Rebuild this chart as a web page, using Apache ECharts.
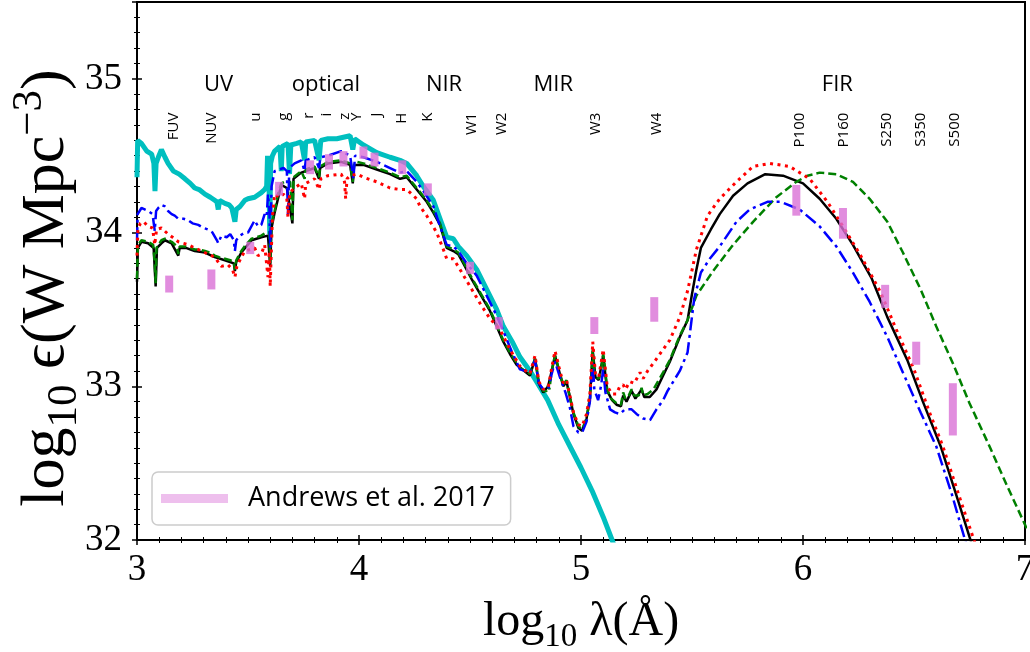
<!DOCTYPE html>
<html>
<head>
<meta charset="utf-8">
<script src="https://cdn.jsdelivr.net/npm/echarts/dist/echarts.min.js"></script>
<style>
  html, body { margin: 0; padding: 0; background: #fff; }
  #chart { width: 1030px; height: 652px; }
</style>
</head>
<body>
<div id="chart"></div>
<script>
// Cosmic spectral energy density, log10 eps (W Mpc^-3) against log10 lambda (Angstrom)

// Unattenuated stellar emission
const stellarSpectrum = [
  [3.000, 34.36], [3.003, 34.60], [3.020, 34.58], [3.044, 34.53], [3.066, 34.51], [3.076, 34.45],
  [3.081, 34.27], [3.086, 34.45], [3.096, 34.49], [3.110, 34.54], [3.126, 34.49], [3.140, 34.45],
  [3.164, 34.40], [3.190, 34.38], [3.216, 34.35], [3.240, 34.32], [3.260, 34.29], [3.280, 34.28],
  [3.306, 34.25], [3.330, 34.23], [3.350, 34.21], [3.360, 34.20], [3.366, 34.15], [3.372, 34.21],
  [3.396, 34.19], [3.415, 34.18], [3.427, 34.16], [3.436, 34.15], [3.441, 34.07], [3.447, 34.15],
  [3.464, 34.17], [3.486, 34.21], [3.500, 34.22], [3.530, 34.23], [3.560, 34.26], [3.575, 34.28],
  [3.584, 34.30], [3.588, 34.50], [3.594, 34.40], [3.598, 33.99], [3.602, 34.45], [3.610, 34.50],
  [3.620, 34.53], [3.644, 34.56], [3.650, 34.40], [3.654, 34.56], [3.680, 34.58], [3.687, 34.38],
  [3.693, 34.57], [3.720, 34.58], [3.740, 34.59], [3.755, 34.47], [3.760, 34.59], [3.800, 34.60],
  [3.820, 34.47], [3.828, 34.60], [3.860, 34.61], [3.900, 34.61], [3.930, 34.62], [3.960, 34.63],
  [3.972, 34.54], [3.980, 34.61], [4.020, 34.57], [4.080, 34.52], [4.140, 34.49], [4.185, 34.47],
  [4.215, 34.45], [4.260, 34.37], [4.290, 34.30], [4.335, 34.21], [4.365, 34.09], [4.395, 33.97],
  [4.425, 33.96], [4.447, 33.91], [4.485, 33.85], [4.530, 33.76], [4.575, 33.63], [4.620, 33.50],
  [4.650, 33.39], [4.690, 33.29], [4.725, 33.19], [4.770, 33.10], [4.800, 33.03], [4.850, 32.91],
  [4.900, 32.75], [4.950, 32.61], [5.000, 32.47], [5.050, 32.32], [5.100, 32.15], [5.140, 32.00],
  [5.180, 31.85]
];

// Model with solid line
const modelBlack = [
  [3.000, 33.68], [3.004, 33.90], [3.020, 33.94], [3.050, 33.93], [3.075, 33.90], [3.084, 33.65],
  [3.090, 33.90], [3.110, 33.93], [3.126, 33.95], [3.156, 33.93], [3.186, 33.85], [3.192, 33.90],
  [3.220, 33.90], [3.260, 33.88], [3.306, 33.87], [3.350, 33.84], [3.396, 33.82], [3.436, 33.80],
  [3.441, 33.75], [3.447, 33.81], [3.470, 33.87], [3.516, 33.95], [3.560, 33.97], [3.590, 33.98],
  [3.600, 33.78], [3.606, 34.03], [3.620, 34.13], [3.650, 34.31], [3.675, 34.29], [3.700, 34.06],
  [3.705, 34.35], [3.740, 34.39], [3.800, 34.42], [3.820, 34.35], [3.825, 34.42], [3.860, 34.45],
  [3.920, 34.46], [3.960, 34.44], [3.972, 34.32], [3.978, 34.44], [4.020, 34.44], [4.080, 34.41],
  [4.140, 34.38], [4.185, 34.35], [4.215, 34.36], [4.260, 34.28], [4.305, 34.20], [4.335, 34.13],
  [4.365, 34.05], [4.395, 33.90], [4.425, 33.88], [4.447, 33.86], [4.470, 33.80], [4.510, 33.69],
  [4.550, 33.59], [4.590, 33.49], [4.620, 33.39], [4.650, 33.29], [4.680, 33.21], [4.710, 33.14],
  [4.770, 33.07], [4.793, 33.18], [4.810, 33.02], [4.830, 32.96], [4.852, 33.00], [4.868, 33.10],
  [4.883, 33.20], [4.905, 33.08], [4.920, 33.00], [4.935, 33.03], [4.950, 32.93], [4.966, 32.82],
  [4.988, 32.73], [5.005, 32.71], [5.025, 32.79], [5.040, 32.92], [5.053, 33.23], [5.065, 33.06],
  [5.080, 33.04], [5.100, 33.20], [5.118, 32.97], [5.140, 32.91], [5.160, 32.88], [5.180, 32.87],
  [5.190, 32.94], [5.205, 32.90], [5.228, 32.97], [5.245, 32.92], [5.273, 32.98], [5.285, 32.93],
  [5.310, 32.93], [5.340, 32.98], [5.370, 33.07], [5.400, 33.16], [5.445, 33.32], [5.480, 33.43],
  [5.500, 33.60], [5.520, 33.76], [5.540, 33.90], [5.585, 34.02], [5.625, 34.12], [5.685, 34.24],
  [5.750, 34.32], [5.830, 34.38], [5.910, 34.37], [6.000, 34.32], [6.075, 34.22], [6.150, 34.09],
  [6.225, 33.92], [6.310, 33.70], [6.380, 33.45], [6.470, 33.17], [6.540, 32.90], [6.620, 32.61],
  [6.700, 32.25], [6.750, 32.02], [6.800, 31.80]
];

// Model with dashed line
const modelGreen = [
  [3.000, 33.70], [3.004, 33.92], [3.020, 33.95], [3.050, 33.94], [3.073, 33.92], [3.080, 33.80],
  [3.084, 33.67], [3.088, 33.90], [3.096, 33.92], [3.110, 33.95], [3.126, 33.96], [3.156, 33.94],
  [3.180, 33.91], [3.186, 33.86], [3.192, 33.91], [3.216, 33.91], [3.240, 33.90], [3.260, 33.89],
  [3.280, 33.89], [3.306, 33.88], [3.330, 33.87], [3.350, 33.85], [3.370, 33.84], [3.396, 33.83],
  [3.420, 33.82], [3.436, 33.81], [3.441, 33.76], [3.447, 33.82], [3.470, 33.88], [3.490, 33.92],
  [3.516, 33.96], [3.540, 33.97], [3.560, 33.98], [3.580, 34.00], [3.596, 34.00], [3.600, 33.80],
  [3.605, 34.05], [3.620, 34.14], [3.635, 34.25], [3.650, 34.32], [3.665, 34.33], [3.690, 34.33],
  [3.700, 34.08], [3.705, 34.36], [3.740, 34.40], [3.755, 34.35], [3.760, 34.41], [3.800, 34.43],
  [3.820, 34.36], [3.825, 34.43], [3.860, 34.46], [3.920, 34.47], [3.960, 34.45], [3.972, 34.33],
  [3.978, 34.45], [3.990, 34.46], [4.020, 34.45], [4.080, 34.42], [4.140, 34.39], [4.185, 34.36],
  [4.215, 34.37], [4.260, 34.29], [4.305, 34.21], [4.335, 34.14], [4.365, 34.06], [4.395, 33.91],
  [4.425, 33.89], [4.447, 33.87], [4.470, 33.81], [4.510, 33.70], [4.550, 33.60], [4.590, 33.50],
  [4.620, 33.40], [4.650, 33.30], [4.680, 33.22], [4.710, 33.15], [4.725, 33.12], [4.770, 33.08],
  [4.793, 33.18], [4.800, 33.12], [4.810, 33.02], [4.830, 32.97], [4.845, 32.97], [4.852, 33.01],
  [4.858, 32.98], [4.868, 33.10], [4.883, 33.20], [4.895, 33.14], [4.905, 33.08], [4.920, 33.01],
  [4.935, 33.04], [4.945, 32.96], [4.966, 32.83], [4.988, 32.74], [5.005, 32.72], [5.025, 32.79],
  [5.040, 32.92], [5.048, 33.10], [5.053, 33.24], [5.058, 33.12], [5.065, 33.06], [5.080, 33.05],
  [5.090, 33.10], [5.100, 33.21], [5.108, 33.12], [5.118, 32.98], [5.135, 32.92], [5.160, 32.89],
  [5.180, 32.88], [5.190, 32.96], [5.200, 32.92], [5.215, 32.94], [5.228, 32.98], [5.240, 32.94],
  [5.260, 32.94], [5.273, 32.99], [5.280, 32.94], [5.300, 32.95], [5.326, 32.98], [5.370, 33.09],
  [5.400, 33.17], [5.445, 33.33], [5.480, 33.43], [5.520, 33.59], [5.595, 33.75], [5.685, 33.92],
  [5.775, 34.07], [5.880, 34.23], [5.970, 34.33], [6.020, 34.37], [6.075, 34.39], [6.150, 34.38],
  [6.225, 34.33], [6.300, 34.22], [6.380, 34.07], [6.450, 33.87], [6.530, 33.63], [6.600, 33.39],
  [6.675, 33.15], [6.750, 32.89], [6.840, 32.61], [6.920, 32.35], [7.000, 32.10], [7.050, 31.93]
];

// Model with dash-dot line
const modelBlue = [
  [3.000, 33.95], [3.003, 34.12], [3.020, 34.16], [3.050, 34.14], [3.070, 34.12], [3.080, 34.01],
  [3.086, 34.14], [3.096, 34.16], [3.110, 34.18], [3.126, 34.17], [3.140, 34.14], [3.156, 34.12],
  [3.170, 34.11], [3.186, 34.09], [3.210, 34.09], [3.231, 34.08], [3.250, 34.06], [3.276, 34.05],
  [3.300, 34.03], [3.320, 34.02], [3.340, 34.00], [3.360, 33.95], [3.366, 33.93], [3.380, 33.98],
  [3.404, 33.97], [3.420, 33.99], [3.436, 33.95], [3.441, 33.88], [3.447, 33.95], [3.464, 33.98],
  [3.486, 34.00], [3.500, 34.00], [3.530, 34.08], [3.545, 34.04], [3.560, 34.05], [3.575, 34.12],
  [3.584, 34.10], [3.590, 34.25], [3.596, 34.15], [3.600, 33.90], [3.606, 34.30], [3.620, 34.40],
  [3.640, 34.41], [3.660, 34.42], [3.675, 34.40], [3.680, 34.12], [3.686, 34.42], [3.710, 34.45],
  [3.740, 34.47], [3.755, 34.40], [3.760, 34.47], [3.800, 34.49], [3.820, 34.42], [3.826, 34.49],
  [3.860, 34.50], [3.920, 34.53], [3.960, 34.50], [3.975, 34.35], [3.982, 34.50], [4.020, 34.49],
  [4.080, 34.46], [4.140, 34.42], [4.185, 34.39], [4.215, 34.40], [4.260, 34.33], [4.290, 34.27],
  [4.335, 34.17], [4.365, 34.04], [4.395, 33.92], [4.425, 33.91], [4.447, 33.88], [4.485, 33.80],
  [4.530, 33.72], [4.575, 33.59], [4.620, 33.46], [4.650, 33.36], [4.690, 33.22], [4.725, 33.11],
  [4.770, 33.09], [4.793, 33.17], [4.810, 33.02], [4.830, 32.98], [4.852, 32.98], [4.868, 33.08],
  [4.883, 33.16], [4.905, 33.06], [4.930, 32.96], [4.950, 32.86], [4.966, 32.74], [4.988, 32.70],
  [5.005, 32.70], [5.025, 32.77], [5.040, 32.90], [5.053, 33.15], [5.060, 32.98], [5.077, 32.91],
  [5.090, 33.00], [5.100, 33.11], [5.110, 32.96], [5.131, 32.85], [5.153, 32.83], [5.175, 32.82],
  [5.198, 32.85], [5.228, 32.85], [5.250, 32.82], [5.280, 32.79], [5.311, 32.78], [5.340, 32.85],
  [5.370, 32.91], [5.390, 32.97], [5.445, 33.10], [5.480, 33.22], [5.510, 33.57], [5.540, 33.74],
  [5.580, 33.83], [5.625, 33.91], [5.700, 34.07], [5.760, 34.15], [5.840, 34.20], [5.900, 34.20],
  [5.985, 34.15], [6.075, 34.04], [6.150, 33.91], [6.225, 33.74], [6.300, 33.55], [6.380, 33.32],
  [6.450, 33.09], [6.530, 32.83], [6.600, 32.61], [6.670, 32.30], [6.730, 32.00], [6.780, 31.80]
];

// Model with dotted line
const modelRed = [
  [3.000, 33.85], [3.004, 34.02], [3.015, 34.06], [3.030, 34.07], [3.050, 34.04], [3.070, 34.03],
  [3.080, 33.92], [3.088, 34.02], [3.110, 34.03], [3.140, 33.99], [3.160, 33.97], [3.186, 33.94],
  [3.210, 33.93], [3.231, 33.92], [3.260, 33.90], [3.291, 33.88], [3.320, 33.86], [3.350, 33.84],
  [3.380, 33.78], [3.410, 33.79], [3.430, 33.76], [3.441, 33.71], [3.450, 33.78], [3.470, 33.84],
  [3.486, 33.88], [3.510, 33.89], [3.530, 33.90], [3.545, 33.85], [3.560, 33.86], [3.575, 33.92],
  [3.590, 33.71], [3.596, 33.88], [3.600, 33.65], [3.610, 34.10], [3.620, 34.25], [3.640, 34.23],
  [3.660, 34.25], [3.675, 34.22], [3.680, 34.10], [3.688, 34.26], [3.710, 34.29], [3.740, 34.32],
  [3.755, 34.22], [3.760, 34.32], [3.800, 34.35], [3.820, 34.28], [3.828, 34.35], [3.860, 34.37],
  [3.920, 34.38], [3.935, 34.33], [3.940, 34.22], [3.946, 34.35], [3.960, 34.37], [3.990, 34.38],
  [4.020, 34.36], [4.080, 34.33], [4.140, 34.29], [4.185, 34.28], [4.215, 34.28], [4.260, 34.22],
  [4.275, 34.17], [4.305, 34.11], [4.350, 34.00], [4.380, 33.89], [4.395, 33.83], [4.425, 33.83],
  [4.455, 33.76], [4.500, 33.65], [4.545, 33.54], [4.590, 33.44], [4.635, 33.37], [4.680, 33.24],
  [4.725, 33.13], [4.770, 33.08], [4.793, 33.20], [4.810, 33.03], [4.830, 32.98], [4.852, 32.99],
  [4.868, 33.12], [4.883, 33.23], [4.905, 33.10], [4.920, 33.02], [4.935, 33.04], [4.950, 32.94],
  [4.966, 32.83], [4.988, 32.75], [5.005, 32.74], [5.025, 32.82], [5.040, 32.95], [5.053, 33.29],
  [5.065, 33.08], [5.080, 33.06], [5.100, 33.24], [5.118, 33.00], [5.140, 32.95], [5.160, 32.95],
  [5.175, 33.00], [5.190, 33.01], [5.200, 32.98], [5.220, 33.03], [5.240, 33.02], [5.266, 33.09],
  [5.280, 33.05], [5.300, 33.10], [5.326, 33.15], [5.370, 33.24], [5.400, 33.30], [5.445, 33.45],
  [5.480, 33.62], [5.520, 33.89], [5.570, 34.11], [5.625, 34.22], [5.700, 34.33], [5.775, 34.43],
  [5.850, 34.45], [5.940, 34.43], [6.030, 34.35], [6.110, 34.20], [6.180, 34.04], [6.260, 33.85],
  [6.350, 33.61], [6.420, 33.37], [6.500, 33.11], [6.570, 32.83], [6.630, 32.61], [6.700, 32.30],
  [6.770, 32.00], [6.820, 31.80]
];

// Andrews et al. 2017 measurements: band wavelength and lower / upper bounds
const andrewsLogLambda = [3.145, 3.335, 3.51, 3.64, 3.78, 3.865, 3.93, 4.02, 4.07, 4.195,
  4.31, 4.50, 4.63, 5.06, 5.33, 5.97, 6.18, 6.37, 6.51, 6.675];
const andrewsLow = [33.61, 33.63, 33.86, 34.24, 34.38, 34.41, 34.43, 34.48, 34.43, 34.38,
  34.24, 33.73, 33.37, 33.34, 33.42, 34.11, 33.96, 33.51, 33.14, 32.68];
const andrewsHigh = [33.72, 33.76, 33.94, 34.33, 34.47, 34.51, 34.53, 34.56, 34.52, 34.47,
  34.32, 33.81, 33.45, 33.45, 33.58, 34.31, 34.16, 33.66, 33.29, 33.02];

// Filter band names and their positions
const bandNames = ['FUV', 'NUV', 'u', 'g', 'r', 'i', 'z', 'Y', 'J', 'H', 'K',
  'W1', 'W2', 'W3', 'W4', 'P100', 'P160', 'S250', 'S350', 'S500'];
const bandLogLambda = [3.167, 3.338, 3.536, 3.662, 3.775, 3.856, 3.937, 3.990, 4.080, 4.194, 4.310,
  4.510, 4.644, 5.068, 5.342, 5.986, 6.185, 6.378, 6.532, 6.685];

// Spectral regime names
const regionNames = ['UV', 'optical', 'NIR', 'MIR', 'FIR'];
const regionLogLambda = [3.367, 3.851, 4.383, 4.875, 6.155];

const xTicks = [3, 4, 5, 6, 7];
const yTicks = [32, 33, 34, 35];

const bandLabelTop = 34.78;
const regionLabelY = 34.96;

const serif = '"Liberation Serif", "DejaVu Serif", serif';
const sans = '"Open Sans", "DejaVu Sans", sans-serif';

const chart = echarts.init(document.getElementById('chart'), null, { renderer: 'canvas' });

function axisPair(kind, min, max, ticks) {
  const base = {
    type: 'value', min: min, max: max, interval: 1,
    position: kind === 'x' ? 'bottom' : 'left',
    splitLine: { show: false }, minorSplitLine: { show: false },
    minorTick: { show: true, splitNumber: 10, length: 3, lineStyle: { color: '#000', width: 1 } }
  };
  const main = Object.assign({}, base, {
    axisLine: { show: true, onZero: false, lineStyle: { color: '#000', width: 2 } },
    axisTick: { show: true, inside: false, length: 5, lineStyle: { color: '#000', width: 1.5 } },
    axisLabel: {
      show: true, color: '#000', fontFamily: serif, fontSize: 37,
      margin: kind === 'x' ? 12 : 15,
      formatter: v => (ticks.indexOf(v) >= 0 ? String(v) : '')
    }
  });
  const inner = Object.assign({}, base, {
    axisLine: { show: false, onZero: false },
    axisTick: { show: true, inside: true, length: 5, lineStyle: { color: '#000', width: 1.5 } },
    axisLabel: { show: false }
  });
  return [main, inner];
}

const andrewsData = andrewsLogLambda.map((x, i) => [x, andrewsLow[i], andrewsHigh[i]]);
const bandData = bandLogLambda.map(x => [x, bandLabelTop]);
const regionData = regionLogLambda.map(x => [x, regionLabelY]);

function lineSeries(name, data, style, z) {
  return {
    name: name, type: 'line', data: data, symbol: 'none', showSymbol: false,
    sampling: null, smooth: false, clip: true, z: z,
    lineStyle: style, emphasis: { disabled: true }, silent: true
  };
}

const option = {
  animation: false,
  backgroundColor: '#fff',
  grid: {
    left: 137, right: 5, top: 2, bottom: 112,
    containLabel: false, outerBoundsMode: 'none',
    show: true, borderColor: '#000', borderWidth: 2, backgroundColor: 'transparent'
  },
  xAxis: axisPair('x', 3, 7, xTicks),
  yAxis: axisPair('y', 32, 35.5, yTicks),
  legend: {
    data: [{ name: 'Andrews et al. 2017', icon: 'rect', itemStyle: { color: 'rgba(218,112,214,0.45)' } }],
    left: 152, top: 472,
    orient: 'vertical',
    itemWidth: 67, itemHeight: 9,
    padding: [13, 16, 13, 9],
    backgroundColor: 'rgba(255,255,255,0.8)',
    borderColor: '#cccccc', borderWidth: 1.5, borderRadius: 6,
    textStyle: { fontFamily: sans, fontSize: 27, color: '#000', lineHeight: 27, padding: [0, 0, 0, 15] },
    selectedMode: false
  },
  graphic: [
    {
      type: 'text', x: 581, y: 622,
      style: {
        text: '{a|log}{s|10}{a| λ(Å)}',
        align: 'center', verticalAlign: 'middle', fill: '#000',
        rich: {
          a: { fontFamily: serif, fontSize: 48, lineHeight: 64 },
          s: { fontFamily: serif, fontSize: 33, lineHeight: 33, verticalAlign: 'bottom' }
        }
      }
    },
    {
      type: 'text', x: 47, y: 288, rotation: Math.PI / 2,
      style: {
        text: '{a|log}{s|10}{a| \u03F5(W Mpc}{p|\u22123}{a|)}',
        align: 'center', verticalAlign: 'middle', fill: '#000',
        rich: {
          a: { fontFamily: serif, fontSize: 62, lineHeight: 78 },
          s: { fontFamily: serif, fontSize: 43, lineHeight: 43, verticalAlign: 'bottom' },
          p: { fontFamily: serif, fontSize: 43, lineHeight: 43, verticalAlign: 'top' }
        }
      }
    }
  ],
  series: [
    lineSeries('stellar', stellarSpectrum, { color: '#00BFBF', width: 5 }, 2),
    lineSeries('solid', modelBlack, { color: '#000000', width: 2.5 }, 3),
    lineSeries('dashed', modelGreen, { color: '#008000', width: 2.5, type: [8, 4] }, 4),
    lineSeries('dashdot', modelBlue, { color: '#0000FF', width: 2.5, type: [13, 4.5, 3, 4.5] }, 5),
    lineSeries('dotted', modelRed, { color: '#FF0000', width: 3, type: [3, 4.5] }, 6),
    {
      name: 'Andrews et al. 2017', type: 'custom', data: andrewsData, z: 8, silent: true,
      itemStyle: { color: 'rgba(218,112,214,0.8)' },
      encode: { x: 0, y: [1, 2] },
      renderItem: function (params, api) {
        const top = api.coord([api.value(0), api.value(2)]);
        const bottom = api.coord([api.value(0), api.value(1)]);
        return {
          type: 'rect',
          shape: { x: top[0] - 4, y: top[1], width: 8, height: bottom[1] - top[1] },
          style: { fill: 'rgba(218,112,214,0.8)' }
        };
      }
    },
    {
      name: 'bands', type: 'custom', data: bandData, z: 9, silent: true,
      renderItem: function (params, api) {
        const p = api.coord([api.value(0), api.value(1)]);
        return {
          type: 'text', x: p[0], y: p[1], rotation: Math.PI / 2,
          style: {
            text: bandNames[params.dataIndex], fontFamily: sans, fontSize: 15,
            align: 'right', verticalAlign: 'middle', fill: '#000'
          }
        };
      }
    },
    {
      name: 'regions', type: 'custom', data: regionData, z: 9, silent: true,
      renderItem: function (params, api) {
        const p = api.coord([api.value(0), api.value(1)]);
        return {
          type: 'text', x: p[0], y: p[1],
          style: {
            text: regionNames[params.dataIndex], fontFamily: sans, fontSize: 22,
            align: 'center', verticalAlign: 'middle', fill: '#000'
          }
        };
      }
    }
  ]
};

chart.setOption(option);
</script>
</body>
</html>
